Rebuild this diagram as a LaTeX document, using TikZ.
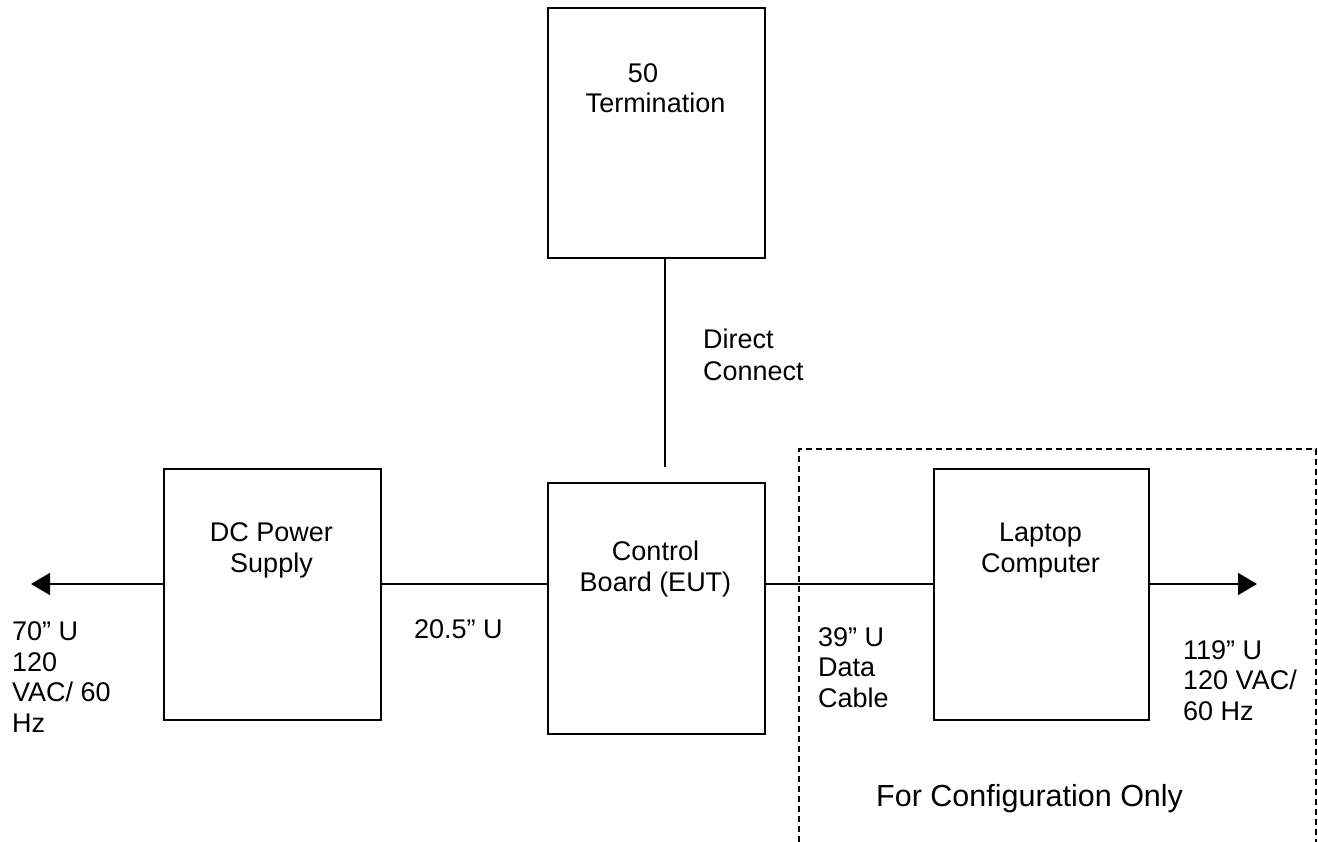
\documentclass[tikz,border=0pt]{standalone}
\usepackage{fontspec}
\setmainfont{Liberation Sans}
\usetikzlibrary{arrows.meta}
\begin{document}
\begin{tikzpicture}[x=1pt,y=-1pt,
  blk/.style={draw, line width=1.6pt, inner sep=0pt, anchor=north west},
  lbl/.style={font=\fontsize{27}{30.5}\selectfont, inner sep=0pt},
  wire/.style={line width=1.6pt},
  arr/.style={line width=1.6pt, -{Triangle[length=19pt,width=22pt]}},
  grp/.style={line width=1.4pt, dash pattern=on 6pt off 4pt}]
\useasboundingbox (0,0) rectangle (1318,842);
% boxes
\node[blk, minimum width=217pt, minimum height=250pt] (term) at (547,7) {};
\node[blk, minimum width=217pt, minimum height=251pt] (dcps) at (163,468) {};
\node[blk, minimum width=217pt, minimum height=251pt] (ctrl) at (547,482) {};
\node[blk, minimum width=215pt, minimum height=251pt] (lap) at (933,468) {};
% helper coordinates
\coordinate (ly) at (0,584);
\coordinate (lx) at (665,0);
\coordinate (vend) at (665,467);
\coordinate (lend) at (31,584);
\coordinate (rend) at (1257,584);
\coordinate (g1) at (799,842);
\coordinate (g2) at (799,449);
\coordinate (g3) at (1316,449);
\coordinate (g4) at (1316,842);
% connectors
\draw[wire] (term.south -| lx) -- (vend);
\draw[wire] (dcps.east |- ly) -- (ctrl.west |- ly);
\draw[wire] (ctrl.east |- ly) -- (lap.west |- ly);
\draw[arr] (dcps.west |- ly) -- (lend);
\draw[arr] (lap.east |- ly) -- (rend);
% group
\draw[grp] (g1) -- (g2) -- (g3) -- (g4);
% texts (base anchor = baseline of last line)
\node[lbl, anchor=base, align=center] (termtxt) at (655.5,113) {50\hspace*{25pt}\\Termination};
\node[lbl, anchor=base, align=center] (dctxt) at (271.5,572) {DC Power\\Supply};
\node[lbl, anchor=base, align=center] (ctrltxt) at (655.5,591) {Control\\Board (EUT)};
\node[lbl, anchor=base, align=center] (laptxt) at (1040.5,572) {Laptop\\Computer};
\node[lbl, anchor=base west, align=left, font=\fontsize{27}{32}\selectfont] (dctext) at (703,381) {Direct\\Connect};
\node[lbl, anchor=base west] (c1txt) at (414,638) {20.5” U};
\node[lbl, anchor=base west, align=left] (c0txt) at (12,732) {70” U\\120\\VAC/ 60\\Hz};
\node[lbl, anchor=base west, align=left] (c2txt) at (818,707) {39” U\\Data\\Cable};
\node[lbl, anchor=base west, align=left] (c3txt) at (1183,720) {119” U\\120 VAC/\\60 Hz};
\node[inner sep=0pt, anchor=base west, font=\fontsize{30.5}{36}\selectfont] (grptxt) at (876,806) {For Configuration Only};
\end{tikzpicture}
\end{document}
